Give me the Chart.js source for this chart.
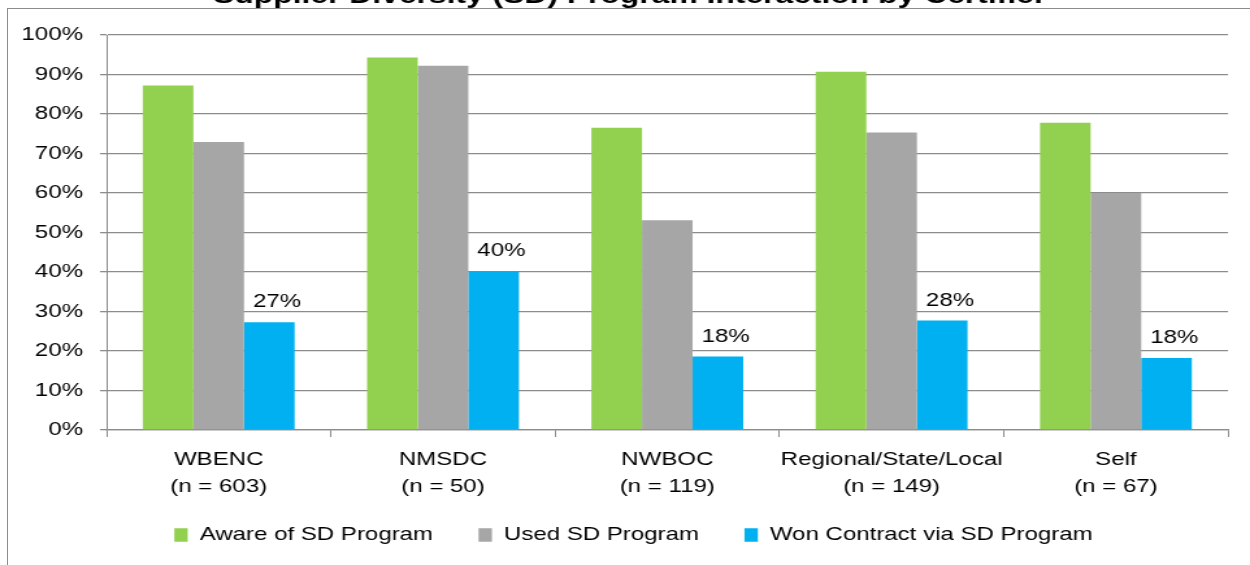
<!DOCTYPE html>
<html><head><meta charset="utf-8">
<script src="https://cdn.jsdelivr.net/npm/chart.js@4/dist/chart.umd.min.js"></script>
<style>
html,body{margin:0;padding:0;background:#fff;overflow:hidden;width:1250px;height:565px;}
#frame{position:absolute;left:7px;top:8px;width:1300px;height:600px;border-left:1px solid #8c8c8c;border-top:1px solid #8c8c8c;}
#wrap{position:absolute;left:0;top:-18px;width:962px;height:583px;transform:scaleX(1.29938);transform-origin:0 0;}
</style></head><body>
<div id="frame"></div>
<div id="wrap"><canvas id="c"></canvas></div>
<script>
const titleText = 'Supplier Diversity (SD) Program Interaction by Certifier';
const categories = ['WBENC', 'NMSDC', 'NWBOC', 'Regional/State/Local', 'Self'];
const sampleSizes = [603, 50, 119, 149, 67];
const seriesNames = ['Aware of SD Program', 'Used SD Program', 'Won Contract via SD Program'];
const awareValues = [87.2, 94.3, 76.5, 90.7, 77.8];
const usedValues = [72.9, 92.2, 53.1, 75.3, 60.0];
const wonValues = [27.3, 40.2, 18.6, 27.7, 18.2];
const wonLabels = ['27%', '40%', '18%', '28%', '18%'];
const yMin = 0, yMax = 100, yStep = 10;

const FONT = '"Liberation Sans", Arial, sans-serif';
const GRID = '#8c8c8c';
Chart.defaults.color = '#000';
Chart.defaults.font.family = FONT;

const labels = categories.map((c, i) => [c, '(n = ' + sampleSizes[i] + ')']);

const wonLabelPlugin = {
  id: 'wonLabels',
  afterDatasetsDraw(chart) {
    const meta = chart.getDatasetMeta(2);
    const ctx = chart.ctx;
    ctx.save();
    ctx.font = '18.5px ' + FONT;
    ctx.fillStyle = '#000';
    ctx.textAlign = 'center';
    ctx.textBaseline = 'alphabetic';
    meta.data.forEach((bar, i) => {
      ctx.fillText(wonLabels[i], bar.x + 6, bar.y - 15);
    });
    ctx.restore();
  }
};

const boxShift = {
  id: 'boxShift',
  afterLayout(chart) {
    const lg = chart.legend;
    if (lg) { lg.left += 15; lg.right += 15; lg.top -= 10; lg.bottom -= 10; }
    const tb = chart.titleBlock;
    if (tb) { tb.left += 12; tb.right += 12; }
  }
};

new Chart(document.getElementById('c'), {
  type: 'bar',
  data: {
    labels: labels,
    datasets: [
      { label: seriesNames[0], data: awareValues, backgroundColor: '#92D050', borderWidth: 0 },
      { label: seriesNames[1], data: usedValues, backgroundColor: '#A6A6A6', borderWidth: 0 },
      { label: seriesNames[2], data: wonValues, backgroundColor: '#00B0F0', borderWidth: 0 }
    ]
  },
  options: {
    responsive: true,
    maintainAspectRatio: false,
    animation: false,
    datasets: { bar: { categoryPercentage: 0.677, barPercentage: 1.0 } },
    layout: { padding: { left: 0, right: 16.9, top: 0, bottom: 0.75 } },
    plugins: {
      title: {
        display: true, text: titleText, color: '#000',
        font: { size: 24.5, weight: 'bold', family: FONT, lineHeight: 1.2 },
        padding: { top: 0, bottom: 23.6 }
      },
      legend: {
        position: 'bottom',
        labels: {
          boxWidth: 10.3, boxHeight: 13.5, padding: 35, color: '#000',
          font: { size: 18.5, family: FONT }
        }
      },
      tooltip: { enabled: false }
    },
    scales: {
      x: {
        grid: { drawOnChartArea: false, drawTicks: true, tickLength: 7, color: GRID, lineWidth: 1, offset: true },
        border: { display: true, color: GRID, width: 1.3 },
        ticks: { color: '#000', padding: 9.6, maxRotation: 0, autoSkip: false, font: { size: 18.5, family: FONT, lineHeight: 1.45 } },
        afterFit(scale) { scale.height = 70.75; }
      },
      y: {
        min: yMin, max: yMax,
        grid: { color: GRID, lineWidth: 1.3, drawTicks: true, tickLength: 5 },
        border: { display: true, color: GRID, width: 1 },
        ticks: { stepSize: yStep, color: '#000', padding: 13.1, font: { size: 18.5, family: FONT }, callback: v => v + '%' },
        afterFit(scale) { scale.width = 82; }
      }
    }
  },
  plugins: [wonLabelPlugin, boxShift]
});
</script>
</body></html>
